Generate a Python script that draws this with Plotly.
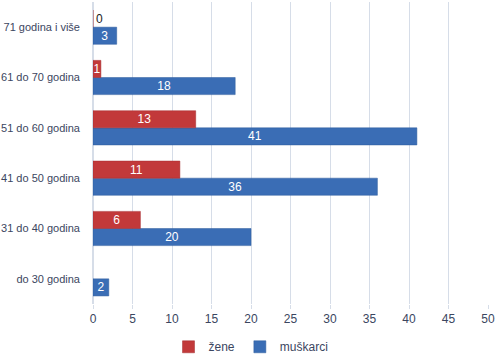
import plotly.graph_objects as go

categories = ["do 30 godina", "31 do 40 godina", "41 do 50 godina", "51 do 60 godina", "61 do 70 godina", "71 godina i više"]
muskarci = [2, 20, 36, 41, 18, 3]
zene = [None, 6, 11, 13, 1, 0]
x_ticks = [0, 5, 10, 15, 20, 25, 30, 35, 40, 45, 50]

FONT = "Liberation Sans"
TXT = "#3b4660"

def labels(vals):
    return ["" if v is None else str(v) for v in vals]

def positions(vals):
    return ["outside" if (v == 0) else "inside" for v in vals]

fig = go.Figure()
fig.add_trace(go.Bar(
    y=categories, x=muskarci, orientation="h", name="muškarci",
    marker=dict(color="#3a6db5", line=dict(color="#2f5c9c", width=0.5)),
    text=labels(muskarci), textposition=positions(muskarci),
    insidetextanchor="middle", textangle=0,
    insidetextfont=dict(color="white", size=12, family=FONT),
    outsidetextfont=dict(color="#222222", size=12, family=FONT),
    legendrank=2,
))
fig.add_trace(go.Bar(
    y=categories, x=zene, orientation="h", name="žene",
    marker=dict(color="#c2393a", line=dict(color="#a52f30", width=0.5)),
    text=labels(zene), textposition=positions([v if v is not None else 1 for v in zene]),
    insidetextanchor="middle", textangle=0,
    insidetextfont=dict(color="white", size=12, family=FONT),
    outsidetextfont=dict(color="#222222", size=12, family=FONT),
    legendrank=1,
))

fig.update_layout(
    width=498, height=359,
    margin=dict(l=93, r=10, t=2, b=55),
    barmode="group", bargap=0.32, bargroupgap=0,
    plot_bgcolor="white", paper_bgcolor="white",
    font=dict(family=FONT, size=12, color=TXT),
    uniformtext=dict(minsize=12, mode="show"),
    legend=dict(orientation="h", x=0.40, xanchor="center", yref="container", y=0.034, yanchor="middle",
                font=dict(size=12, color=TXT), itemwidth=30, traceorder="normal"),
    xaxis=dict(range=[0, 50], tickvals=x_ticks, showgrid=True, gridcolor="#d6dde8", gridwidth=1,
               zeroline=True, zerolinecolor="#d6dde8", ticks="outside", ticklen=4, tickcolor="#d6dde8",
               ticklabelstandoff=0,
               tickfont=dict(size=12, color=TXT), automargin=False, fixedrange=True),
    yaxis=dict(categoryorder="array", categoryarray=categories, showgrid=False, ticks="",
               ticklabelstandoff=12, automargin=False, tickfont=dict(size=11, color=TXT)),
)
fig.update_traces(cliponaxis=False)

fig.write_html("out.html", config={"displayModeBar": False},
               post_script="document.body.style.margin='0';")
